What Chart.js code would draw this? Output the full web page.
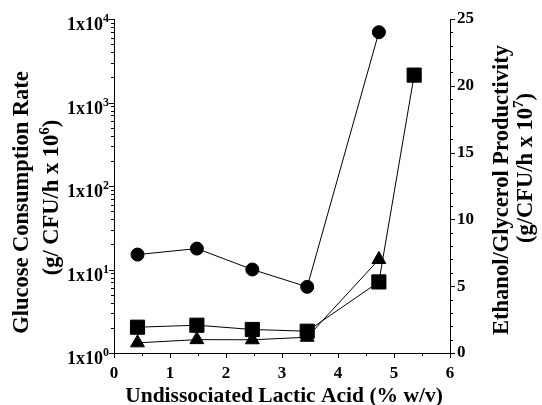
<!DOCTYPE html>
<html>
<head>
<meta charset="utf-8">
<script src="https://cdn.jsdelivr.net/npm/chart.js@4.4.0/dist/chart.umd.min.js"></script>
<style>
  html, body { margin: 0; padding: 0; background: #fff; }
  #wrap { width: 542px; height: 405px; }
</style>
</head>
<body>
<div id="wrap"><canvas id="chart"></canvas></div>
<script>
// Glucose consumption (left, log axis) and ethanol / glycerol productivity (right axis)
const acidGlucose = [0.42, 1.48, 2.47, 3.45, 4.73];
const glucoseRate = [15.1, 17.8, 10.0, 6.2, 6950];
const acidEthanol = [0.42, 1.48, 2.47, 3.45, 4.73, 5.36];
const ethanolProd = [1.93, 2.08, 1.76, 1.63, 5.32, 20.8];
const acidGlycerol = [0.42, 1.48, 2.47, 3.45, 4.73];
const glycerolProd = [0.76, 1.0, 0.99, 1.18, 7.0];

const xMajor = [0, 1, 2, 3, 4, 5, 6];
const xMinor = [0.5, 1.5, 2.5, 3.5, 4.5, 5.5];
const leftExponents = [0, 1, 2, 3, 4];
const rightMajor = [0, 5, 10, 15, 20, 25];

const FONT = "'Liberation Serif', 'Times New Roman', serif";

const toPoints = (xs, ys) => xs.map((x, i) => ({ x, y: ys[i] }));

// text with superscript parts, centred on cx, sitting on baseline y
function drawRich(ctx, parts, cx, y, size) {
  const supSize = Math.round(size * 0.68);
  const widths = parts.map(([text, sup]) => {
    ctx.font = `bold ${sup ? supSize : size}px ${FONT}`;
    return ctx.measureText(text).width;
  });
  let x = cx - widths.reduce((a, b) => a + b, 0) / 2;
  ctx.textAlign = 'left';
  ctx.textBaseline = 'alphabetic';
  parts.forEach(([text, sup], i) => {
    ctx.font = `bold ${sup ? supSize : size}px ${FONT}`;
    ctx.fillText(text, x, sup ? y - size * 0.42 : y);
    x += widths[i];
  });
}

function drawRotated(ctx, parts, bx, cy, size) {
  ctx.save();
  ctx.translate(bx, cy);
  ctx.rotate(-Math.PI / 2);
  drawRich(ctx, parts, 0, 0, size);
  ctx.restore();
}

const axisDecor = {
  id: 'axisDecor',
  afterDraw(chart) {
    const { ctx, chartArea, scales } = chart;
    const { x, yLeft, yRight } = scales;
    ctx.save();
    ctx.strokeStyle = '#000';
    ctx.fillStyle = '#000';
    ctx.lineWidth = 1;

    const tick = (x1, y1, x2, y2) => {
      ctx.beginPath();
      ctx.moveTo(x1, y1);
      ctx.lineTo(x2, y2);
      ctx.stroke();
    };

    const b = chartArea.bottom;
    xMajor.forEach((v) => {
      const px = Math.round(x.getPixelForValue(v)) + 0.5;
      tick(px, b, px, b + 5);
    });
    xMinor.forEach((v) => {
      const px = Math.round(x.getPixelForValue(v)) + 0.5;
      tick(px, b, px, b + 3);
    });

    const l = chartArea.left;
    leftExponents.forEach((e) => {
      const py = Math.round(yLeft.getPixelForValue(Math.pow(10, e))) + 0.5;
      tick(l - 5, py, l, py);
      if (e < 4) {
        for (let m = 2; m <= 9; m++) {
          const my = Math.round(yLeft.getPixelForValue(m * Math.pow(10, e))) + 0.5;
          tick(l - 3, my, l, my);
        }
      }
      // label 1x10^e
      ctx.font = `bold 12px ${FONT}`;
      const ew = ctx.measureText(String(e)).width;
      ctx.font = `bold 18px ${FONT}`;
      const mw = ctx.measureText('1x10').width;
      const ex = l - 5 - ew;
      ctx.textAlign = 'left';
      ctx.textBaseline = 'alphabetic';
      ctx.fillText('1x10', ex - mw, py + 10);
      ctx.font = `bold 12px ${FONT}`;
      ctx.fillText(String(e), ex, py + 2);
    });

    const r = chartArea.right;
    for (let v = 0; v <= 25; v++) {
      const py = Math.round(yRight.getPixelForValue(v)) + 0.5;
      tick(r, py, r + (v % 5 === 0 ? 5 : 3), py);
    }

    drawRotated(ctx, [['Glucose Consumption Rate', false]], 28, 202.5, 22.5);
    drawRotated(ctx, [['(g/ CFU/h x 10', false], ['6', true], [')', false]], 58, 197.5, 22.5);
    drawRotated(ctx, [['Ethanol/Glycerol Productivity', false]], 508, 190, 22.5);
    drawRotated(ctx, [['(g/CFU/h x 10', false], ['7', true], [')', false]], 532, 168, 22.5);
    drawRich(ctx, [['Undissociated Lactic Acid (% w/v)', false]], 284, 401.5, 21.5);
    ctx.restore();
  },
};

const lineStyle = {
  borderColor: '#000',
  backgroundColor: '#000',
  borderWidth: 1,
  pointBorderWidth: 1,
  showLine: true,
  clip: false,
};

new Chart(document.getElementById('chart'), {
  type: 'line',
  data: {
    datasets: [
      Object.assign({ label: 'Glucose', data: toPoints(acidGlucose, glucoseRate), yAxisID: 'yLeft', pointStyle: 'circle', pointRadius: 6.5 }, lineStyle),
      Object.assign({ label: 'Ethanol', data: toPoints(acidEthanol, ethanolProd), yAxisID: 'yRight', pointStyle: 'rect', pointRadius: 10 }, lineStyle),
      Object.assign({ label: 'Glycerol', data: toPoints(acidGlycerol, glycerolProd), yAxisID: 'yRight', pointStyle: 'triangle', pointRadius: 8 }, lineStyle),
    ],
  },
  options: {
    responsive: true,
    maintainAspectRatio: false,
    animation: false,
    layout: { padding: { top: 19 } },
    plugins: { legend: { display: false }, tooltip: { enabled: false } },
    scales: {
      x: {
        type: 'linear',
        min: 0,
        max: 6,
        grid: { display: false, drawTicks: false },
        border: { display: true, color: '#000', width: 1 },
        ticks: { stepSize: 1, padding: 10, color: '#000', font: { family: FONT, size: 17, weight: 'bold' } },
        afterFit: (scale) => { scale.height = 52; },
      },
      yLeft: {
        type: 'logarithmic',
        position: 'left',
        min: 1,
        max: 10000,
        grid: { display: false, drawTicks: false },
        border: { display: true, color: '#000', width: 1 },
        ticks: { display: false },
        afterFit: (scale) => { scale.width = 114; },
      },
      yRight: {
        type: 'linear',
        position: 'right',
        min: 0,
        max: 25,
        grid: { display: false, drawTicks: false },
        border: { display: true, color: '#000', width: 1 },
        ticks: { stepSize: 5, padding: 7, color: '#000', font: { family: FONT, size: 17, weight: 'bold' } },
        afterFit: (scale) => { scale.width = 92; },
      },
    },
  },
  plugins: [axisDecor],
});
</script>
</body>
</html>
